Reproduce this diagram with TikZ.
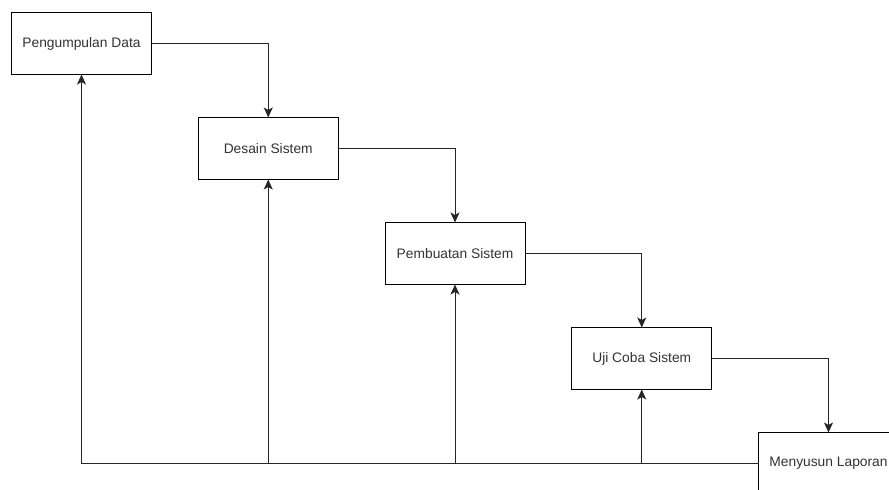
\documentclass[tikz,border=0pt]{standalone}
\usepackage{fontspec}
\setmainfont{Liberation Sans}
\usepackage{tikz}
\usetikzlibrary{positioning, arrows.meta}

\begin{document}
\begin{tikzpicture}[
    x=1pt, y=1pt,
    node distance=43pt and 46.75pt,
    tahap/.style={rectangle, draw=black, line width=1pt, outer sep=0pt, minimum width=140pt, minimum height=62pt, align=center, fill=white, text=black!80},
    arr/.style={-{Stealth[length=10pt, width=9pt, inset=2.5pt]}, line width=1pt, draw=black!85},
    font=\fontsize{13.8}{16}\selectfont
]
\useasboundingbox (0,0) rectangle (889,-490);

\node[tahap] (kumpul) at (81.5,-43.5) {Pengumpulan Data};
\node[tahap, below right=of kumpul] (desain) {Desain Sistem};
\node[tahap, below right=of desain] (buat) {Pembuatan Sistem};
\node[tahap, below right=of buat] (uji) {Uji Coba Sistem};
\node[tahap, below right=of uji] (lapor) {Menyusun Laporan};

% alur maju
\draw[arr] (kumpul.east) -| (desain.north);
\draw[arr] (desain.east) -| (buat.north);
\draw[arr] (buat.east) -| (uji.north);
\draw[arr] (uji.east) -| (lapor.north);

% alur balik
\coordinate (j2) at (lapor.west -| desain.south);
\coordinate (j3) at (lapor.west -| buat.south);
\coordinate (j4) at (lapor.west -| uji.south);
\draw[arr] (lapor.west) -| (kumpul.south);
\draw[arr] (j2) -- (desain.south);
\draw[arr] (j3) -- (buat.south);
\draw[arr] (j4) -- (uji.south);
\end{tikzpicture}
\end{document}
